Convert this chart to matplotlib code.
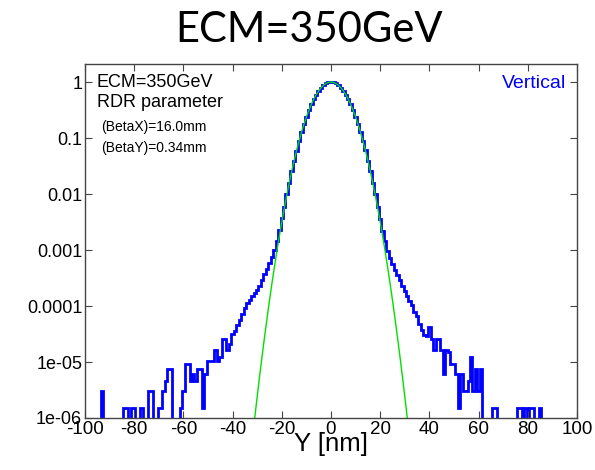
import numpy as np
import matplotlib
matplotlib.use("Agg")
import matplotlib.pyplot as plt

# vertical beam profile at the IP, 1 nm bins (counts per bin)
bin_centers = np.arange(-100, 101)
counts = [
    0, 0, 0, 0, 0, 0, 0, 2, 0, 0,                       # -100 .. -91
    0, 0, 0, 0, 0, 0, 1, 1, 0, 1,                       # -90 .. -81
    1, 0, 0, 1, 0, 0, 2, 2, 0, 0,                       # -80 .. -71
    1, 1, 2, 3, 5, 5, 0, 0, 0, 1,                       # -70 .. -61
    2, 6, 6, 3, 4, 3, 5, 5, 1, 4,                       # -60 .. -51
    7, 7, 7, 11, 7, 8, 17, 17, 11, 14,                  # -50 .. -41
    21, 24, 30, 37, 48, 62, 75, 85, 100, 115,           # -40 .. -31
    130, 150, 195, 245, 305, 385, 495, 650, 960, 1490,  # -30 .. -21
    2420, 3930, 6480, 10520, 16750, 26150, 39500, 58400, 83300, 116200,      # -20 .. -11
    157100, 206000, 263400, 326300, 393800, 460500, 524900, 579700, 623400, 650400,  # -10 .. -1
    660000,                                             # 0
    650600, 623200, 579900, 524600, 460800, 393600, 326400, 263100, 206200, 156900,  # 1 .. 10
    116100, 83400, 58300, 39600, 26100, 16800, 10500, 6500, 3950, 2400,      # 11 .. 20
    1470, 950, 630, 480, 375, 295, 235, 190, 150, 122,  # 21 .. 30
    100, 82, 68, 52, 43, 32, 25, 20, 19, 28,            # 31 .. 40
    17, 11, 17, 17, 11, 4, 11, 10, 6, 6,                # 41 .. 50
    4, 1, 4, 2, 2, 3, 8, 2, 5, 2,                       # 51 .. 60
    5, 0, 0, 0, 0, 1, 1, 0, 0, 0,                       # 61 .. 70
    0, 0, 0, 0, 0, 1, 1, 0, 1, 0,                       # 71 .. 80
    1, 1, 0, 0, 1, 0, 0, 0, 0, 0,                       # 81 .. 90
    0, 0, 0, 0, 0, 0, 0, 0, 0, 0,                       # 91 .. 100
]

# gaussian fit (green), sampled every 1 nm
fit_x = np.arange(-32, 33)
fit_half = [1.0, 0.9857, 0.9442, 0.8786, 0.7949, 0.6982, 0.5963, 0.4945, 0.3987,
            0.3124, 0.2377, 0.1758, 0.1263, 0.08823, 0.05984, 0.03945, 0.02529,
            0.01574, 0.009506, 0.005585, 0.003192, 0.001770, 0.000955, 0.000500,
            2.547e-4, 1.259e-4, 6.05e-5, 2.825e-5, 1.282e-5, 5.65e-6, 2.42e-6,
            1.007e-6, 4.07e-7]
fit_vals = fit_half[:0:-1] + fit_half

ytick_vals = [1, 0.1, 0.01, 0.001, 0.0001, 1e-5, 1e-6]
ytick_labels = ['1', '0.1', '0.01', '0.001', '0.0001', '1e-05', '1e-06']
xtick_vals = list(range(-100, 101, 20))

counts = np.array(counts, dtype=float)
vals = counts / counts.max()
edges = np.append(bin_centers - 0.5, bin_centers[-1] + 0.5)

plt.rcParams['font.family'] = ['Liberation Sans', 'DejaVu Sans']

W, H = 595, 470
fig = plt.figure(figsize=(W / 100, H / 100), dpi=100)
ax = fig.add_axes([85 / W, 1 - 418 / H, 492 / W, 354 / H])

ax.stairs(vals, edges, color='#0000ff', linewidth=2.0, baseline=None)
ax.plot(fit_x, fit_vals, color='#00e000', linewidth=1.0)

ax.set_yscale('log')
ax.set_xlim(-100, 100)
ax.set_ylim(1e-6, 2.1)
ax.set_yticks(ytick_vals)
ax.set_yticklabels(ytick_labels)
ax.minorticks_off()
ax.set_xticks(xtick_vals)
ax.set_xticklabels([str(v) for v in xtick_vals])

ax.tick_params(axis='both', direction='in', top=True, right=True,
               length=5, width=0.8, color='#444444')
ax.tick_params(axis='y', labelsize=13, pad=2)
ax.tick_params(axis='x', labelsize=13.5, pad=2)
for s in ax.spines.values():
    s.set_color('#444444')
    s.set_linewidth(1.0)

def axfrac(px, py):
    return (px - 85) / 492, (418 - py) / 354

ax.text(*axfrac(97, 87), 'ECM=350GeV', transform=ax.transAxes, fontsize=13, va='baseline')
ax.text(*axfrac(97, 107), 'RDR parameter', transform=ax.transAxes, fontsize=13, va='baseline')
ax.text(*axfrac(101, 131), '(BetaX)=16.0mm', transform=ax.transAxes, fontsize=10, va='baseline')
ax.text(*axfrac(101, 152), '(BetaY)=0.34mm', transform=ax.transAxes, fontsize=10, va='baseline')
ax.text(*axfrac(566, 88), 'Vertical', transform=ax.transAxes, fontsize=14,
        color='#0000ff', ha='right', va='baseline')

fig.text(331 / W, 1 - 451 / H, 'Y [nm]', fontsize=18.5, ha='center', va='baseline')
fig.text(309 / W, 1 - 42 / H, 'ECM=350GeV', fontsize=30, ha='center', va='baseline',
         family=['Lato', 'DejaVu Sans'])

fig.savefig('out.png', dpi=100)
